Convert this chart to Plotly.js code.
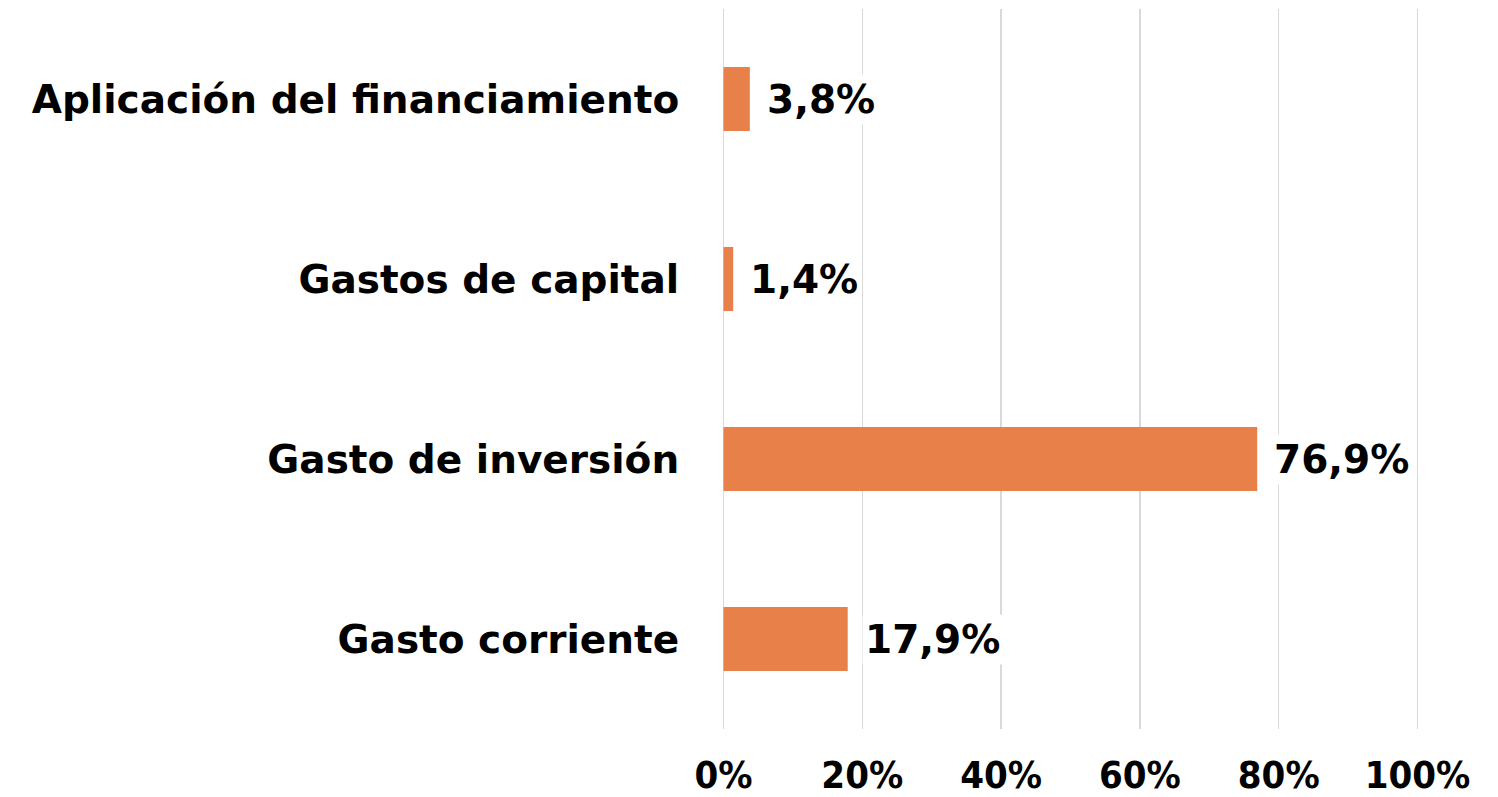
<!DOCTYPE html>
<html>
<head>
<meta charset="utf-8">
<script src="https://cdn.plot.ly/plotly-3.0.1.min.js"></script>
<style>html,body{margin:0;padding:0;background:#fff;}#chart{width:1498px;height:797px;}</style>
</head>
<body>
<div id="chart"></div>
<script>
var categories = ["Gasto corriente", "Gasto de inversión", "Gastos de capital", "Aplicación del financiamiento"];
var values = [17.9, 76.9, 1.4, 3.8];
var tickVals = [0, 20, 40, 60, 80, 100];
var tickText = ["0%", "20%", "40%", "60%", "80%", "100%"];

function fmt(v) { return v.toFixed(1).replace('.', ',') + '%'; }

var trace = {
  type: 'bar',
  orientation: 'h',
  x: values,
  y: categories,
  marker: { color: '#E8804A' },
  hoverinfo: 'none'
};

var annotations = values.map(function (v, i) {
  return {
    x: v, y: categories[i], xref: 'x', yref: 'y',
    text: fmt(v), showarrow: false, xanchor: 'left', xshift: 14,
    bgcolor: '#ffffff', borderpad: 2,
    font: { family: 'DejaVu Sans', size: 39, color: '#000', weight: 'bold' }
  };
});

var layout = {
  width: 1498, height: 797,
  margin: { l: 719.5, r: 76.5, t: 9, b: 68, pad: 0 },
  paper_bgcolor: '#fff', plot_bgcolor: '#fff',
  bargap: 0.644,
  showlegend: false,
  xaxis: {
    range: [-0.5, 100.5], tickvals: tickVals, ticktext: tickText,
    showgrid: true, gridcolor: '#d9d9d9', gridwidth: 1.5,
    zeroline: false, showline: false, ticks: 'outside', ticklen: 12, tickcolor: 'rgba(0,0,0,0)',
    tickfont: { family: 'DejaVu Sans Condensed', size: 38, color: '#000', weight: 'bold' },
    fixedrange: true
  },
  yaxis: {
    showgrid: false, zeroline: false, showline: false, ticks: 'outside', ticklen: 32, tickcolor: 'rgba(0,0,0,0)',
    tickfont: { family: 'DejaVu Sans', size: 39, color: '#000', weight: 'bold' },
    automargin: false, fixedrange: true
  },
  annotations: annotations
};

Plotly.newPlot('chart', [trace], layout, { displayModeBar: false, staticPlot: true });
</script>
</body>
</html>
